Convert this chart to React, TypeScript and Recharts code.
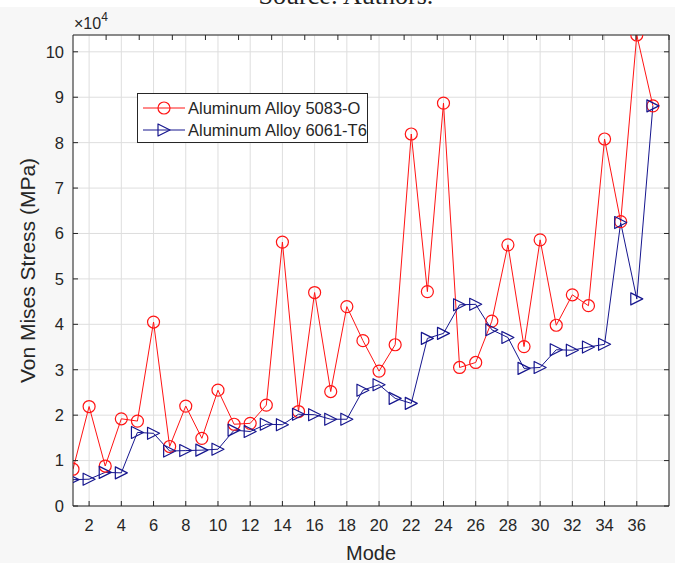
import React from 'react';
import { LineChart, Line, XAxis, YAxis, CartesianGrid, Legend } from 'recharts';

// Mode numbers of the analysed shapes
const modes = [
  1, 2, 3, 4, 5, 6, 7, 8, 9, 10, 11, 12, 13, 14, 15, 16, 17, 18, 19,
  20, 21, 22, 23, 24, 25, 26, 27, 28, 29, 30, 31, 32, 33, 34, 35, 36, 37,
];

// Von Mises stress (MPa) per mode, aluminium alloy 5083-O
const stress5083 = [
  8100, 21900, 8800, 19200, 18700, 40500, 13100, 22000, 14900, 25500,
  18000, 18200, 22200, 58100, 20800, 47000, 25200, 43900, 36400, 29700,
  35500, 81900, 47200, 88700, 30500, 31600, 40700, 57500, 35100, 58600,
  39800, 46500, 44100, 80800, 62600, 103700, 88100,
];

// Von Mises stress (MPa) per mode, aluminium alloy 6061-T6
const stress6061 = [
  5800, 5900, 7400, 7300, 16200, 16000, 12100, 12200, 12300, 12500,
  16700, 16400, 18000, 17900, 20200, 20100, 19100, 19100, 25500, 26700,
  23700, 22600, 36900, 38000, 44300, 44400, 38800, 37100, 30300, 30500,
  34400, 34300, 35000, 35600, 62400, 45600, 88100,
];

const modeTicks = [2, 4, 6, 8, 10, 12, 14, 16, 18, 20, 22, 24, 26, 28, 30, 32, 34, 36];
const stressTicks = [0, 10000, 20000, 30000, 40000, 50000, 60000, 70000, 80000, 90000, 100000];

const seriesNames = ['Aluminum Alloy 5083-O', 'Aluminum Alloy 6061-T6'];

const RED = '#ff1414';
const BLUE = '#16168e';
const INK = '#262626';
const GRID = '#dedede';
const FONT = '"Liberation Sans", Arial, Helvetica, sans-serif';

const data = modes.map((m, i) => ({ mode: m, a5083: stress5083[i], a6061: stress6061[i] }));

const MARKER = 6;

const circlePath = (cx: number, cy: number) => (
  <circle cx={cx} cy={cy} r={MARKER} fill="none" stroke={RED} strokeWidth={1.2} />
);

const trianglePath = (cx: number, cy: number) => (
  <polygon
    points={`${cx + MARKER},${cy} ${cx - MARKER},${cy - MARKER} ${cx - MARKER},${cy + MARKER}`}
    fill="none"
    stroke={BLUE}
    strokeWidth={1.2}
    strokeLinejoin="round"
  />
);

const CircleDot = (props: any) => {
  const { cx, cy, index } = props;
  if (cx == null || cy == null) return <g key={`c-${index}`} />;
  return <g key={`c-${index}`}>{circlePath(cx, cy)}</g>;
};

const TriangleDot = (props: any) => {
  const { cx, cy, index } = props;
  if (cx == null || cy == null) return <g key={`t-${index}`} />;
  return <g key={`t-${index}`}>{trianglePath(cx, cy)}</g>;
};

const EmptyTick = () => <g />;

const renderLegend = (props: any) => {
  const payload = props.payload || [];
  return (
    <div
      style={{
        border: `1px solid ${INK}`,
        background: '#ffffff',
        boxSizing: 'border-box',
        width: 231,
        height: 50,
        padding: '3px 0 0 5px',
        fontFamily: FONT,
        fontSize: 16.5,
        color: INK,
      }}
    >
      {payload.map((entry: any) => {
        const isRed = entry.dataKey === 'a5083';
        const color = isRed ? RED : BLUE;
        return (
          <div key={entry.dataKey} style={{ display: 'flex', alignItems: 'center', height: 22 }}>
            <svg width={42} height={16} style={{ display: 'block' }}>
              <line x1={0} y1={8} x2={42} y2={8} stroke={color} strokeWidth={1} />
              {isRed ? circlePath(21, 8) : trianglePath(21, 8)}
            </svg>
            <span style={{ marginLeft: 3, whiteSpace: 'nowrap' }}>{entry.value}</span>
          </div>
        );
      })}
    </div>
  );
};

// Axis title plus the ×10^4 scale factor above the axis
const renderYTitle = (props: any) => {
  const vb = props.viewBox || {};
  const left = vb.x || 0;
  const top = vb.y || 0;
  const cx = left + 27;
  const cy = top + (vb.height || 0) / 2;
  const ex = left + (vb.width || 0) + 1;
  const ey = top - 6;
  return (
    <g>
      <text
        x={cx}
        y={cy}
        transform={`rotate(-90 ${cx} ${cy})`}
        textAnchor="middle"
        dominantBaseline="central"
        fontFamily={FONT}
        fontSize={21}
        fill={INK}
      >
        Von Mises Stress (MPa)
      </text>
      <text x={ex} y={ey} fontFamily={FONT} fontSize={16} fill={INK}>
        ×10
        <tspan dy={-8} fontSize={12}>
          4
        </tspan>
      </text>
    </g>
  );
};

export default function App() {
  return (
    <div
      style={{
        position: 'absolute',
        left: 0,
        top: 0,
        width: 675,
        height: 563,
        background: '#ffffff',
        overflow: 'hidden',
      }}
    >
      <div
        style={{
          position: 'absolute',
          left: 0,
          top: -17,
          width: 692,
          textAlign: 'center',
          fontFamily: '"Liberation Serif", "Times New Roman", serif',
          fontSize: 26,
          lineHeight: '26px',
          color: '#222',
        }}
      >
        Source: Authors.
      </div>
      <div
        style={{
          position: 'absolute',
          left: 0,
          top: 7,
          width: 675,
          height: 556,
          background: '#f7f7f7',
        }}
      />
      <div style={{ position: 'absolute', left: 0, top: 0 }}>
        <LineChart
          width={675}
          height={563}
          data={data}
          margin={{ top: 34, right: 5, bottom: 0, left: 0 }}
        >
          <CartesianGrid stroke={GRID} strokeWidth={1} fill="#ffffff" />
          <XAxis
            dataKey="mode"
            type="number"
            domain={[1, 38]}
            ticks={modeTicks}
            allowDataOverflow
            height={57}
            tickSize={-5}
            tickMargin={18}
            axisLine={{ stroke: INK }}
            tickLine={{ stroke: INK }}
            tick={{ fill: INK, fontSize: 16.5, fontFamily: FONT }}
            label={{
              value: 'Mode',
              position: 'insideBottom',
              offset: 3,
              fill: INK,
              fontSize: 20,
              fontFamily: FONT,
            }}
          />
          <XAxis
            xAxisId="top"
            orientation="top"
            type="number"
            domain={[1, 38]}
            ticks={modeTicks}
            allowDataOverflow
            height={1}
            tickSize={-5}
            axisLine={{ stroke: INK }}
            tickLine={{ stroke: INK }}
            tick={EmptyTick}
          />
          <YAxis
            type="number"
            domain={[0, 103700]}
            ticks={stressTicks}
            allowDataOverflow
            width={73}
            tickSize={-5}
            tickMargin={14}
            tickFormatter={(v: number) => String(v / 10000)}
            axisLine={{ stroke: INK }}
            tickLine={{ stroke: INK }}
            tick={{ fill: INK, fontSize: 16.5, fontFamily: FONT }}
            label={renderYTitle}
          />
          <YAxis
            yAxisId="right"
            orientation="right"
            type="number"
            domain={[0, 103700]}
            ticks={stressTicks}
            allowDataOverflow
            width={1}
            tickSize={-5}
            axisLine={{ stroke: INK }}
            tickLine={{ stroke: INK }}
            tick={EmptyTick}
          />
          <Legend
            layout="vertical"
            align="center"
            verticalAlign="middle"
            content={renderLegend}
            wrapperStyle={{ left: 137, top: 93, width: 231, height: 50 }}
          />
          <Line
            type="linear"
            dataKey="a5083"
            name={seriesNames[0]}
            stroke={RED}
            strokeWidth={1}
            dot={CircleDot}
            activeDot={false}
            isAnimationActive={false}
          />
          <Line
            type="linear"
            dataKey="a6061"
            name={seriesNames[1]}
            stroke={BLUE}
            strokeWidth={1}
            dot={TriangleDot}
            activeDot={false}
            isAnimationActive={false}
          />
        </LineChart>
      </div>
    </div>
  );
}
